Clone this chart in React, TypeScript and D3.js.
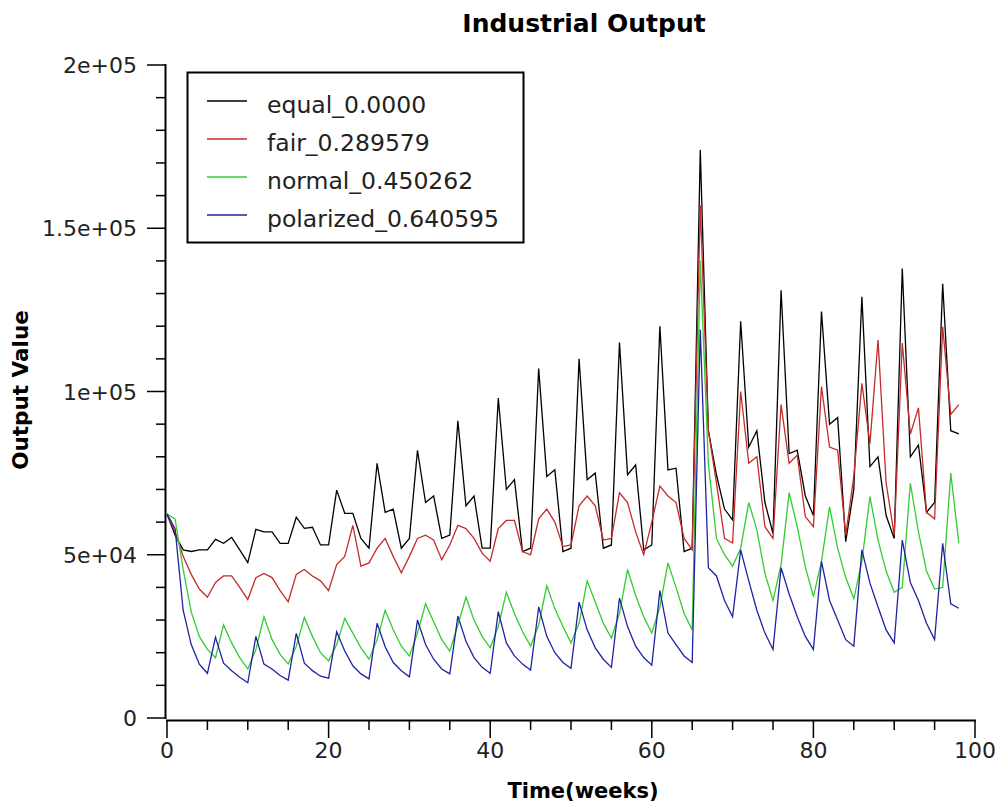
import React from "react";
import * as d3 from "d3";

const width = 1001;
const height = 805;

const seriesNames = ["equal_0.0000", "fair_0.289579", "normal_0.450262", "polarized_0.640595"];
const seriesColors = ["#000000", "#c42b2b", "#33cc33", "#1f23a3"];

// weekly output (thousands), week 0..98
const equalOutput = [
  62.5, 56, 51.5, 51, 51.5, 51.5, 54.7, 53.5, 55.3, 51.5,
  47.6, 57.8, 57, 57, 53.5, 53.5, 61.5, 58.1, 58.4, 53,
  53, 69.8, 62.7, 62.7, 55, 52, 78, 63, 64, 52,
  55, 82, 66, 68, 55, 56, 91, 65, 68, 52,
  52, 98, 70, 73, 51, 52, 107, 74, 76, 51,
  52, 110, 73, 75, 52, 53, 115, 74.5, 77.5, 51.5,
  53, 120, 76, 76.5, 51, 52, 174, 88, 74.5, 64,
  60.7, 121.5, 83, 88, 66, 56.5, 131, 81, 82, 68,
  62, 124.5, 90, 92, 54, 70, 129, 77, 80, 62,
  55, 137.7, 80, 83.6, 63, 66, 133, 88, 87,
];
const fairOutput = [
  62.5, 57, 49.5, 44, 39.5, 37, 41.5, 43.5, 43.5, 40,
  36.3, 43, 44.3, 43, 39, 35.6, 44, 45.5, 43.5, 42,
  39, 47, 49.5, 59, 46.5, 47.5, 52, 55, 49.5, 44.5,
  49.5, 55, 56, 54.5, 48.5, 53, 59, 58, 55, 50.5,
  48, 58, 60.5, 60.5, 51, 50, 61, 64, 60, 52.5,
  53, 65, 68, 65, 54.5, 55, 69, 66, 57, 50,
  60, 71, 68, 66, 55, 51.5, 157, 88, 72, 55,
  53.6, 100, 78, 80, 58.6, 55, 96, 78, 80.5, 61.7,
  58.6, 101.5, 83, 82, 56, 74, 102.5, 84, 115.8, 72,
  56, 114.8, 87, 95, 63, 61, 119.8, 93, 96,
];
const normalOutput = [
  62.5, 61, 45.5, 32.5, 25, 21, 18.5, 28.5, 23, 18.5,
  15, 21, 31, 24, 19.5, 16.5, 22, 30.8, 25, 20,
  17.5, 22.5, 30.5, 26, 21.5, 18, 24, 33, 27, 22,
  19, 26, 35, 29.5, 24, 20.5, 28.5, 37, 30, 25,
  21.5, 28, 38.5, 32, 26.5, 22, 28.5, 40.5, 33.5, 28,
  23, 29, 42, 35.5, 29, 24.5, 32, 45.5, 37.5, 31,
  26, 34, 47.5, 40, 32, 27, 140, 78, 55, 50,
  46.5, 52, 66, 57.6, 44.3, 36, 47, 69, 58.6, 46.3,
  37.2, 48, 64.7, 52, 43, 36.5, 48, 67.8, 54.5, 45,
  38.5, 40, 71.9, 57, 45, 39.5, 40, 75, 53.5,
];
const polarizedOutput = [
  62.5, 58, 33, 22.5, 16.5, 13.7, 24.7, 16.8, 14.5, 12.5,
  10.8, 25, 16.5, 15, 13, 11.6, 25.9, 16.8, 14.5, 12.8,
  12.2, 26.4, 20.5, 16, 13.5, 12, 29, 21.8, 17, 14.5,
  12.6, 30, 22.5, 18, 15, 13.5, 31.2, 23.5, 18.5, 15.5,
  13.7, 32.6, 23, 19, 16.5, 14.7, 34, 25, 20, 17,
  15.2, 35.5, 27, 21.5, 18, 15.5, 36.7, 28, 22, 18.5,
  16.2, 39, 26, 22.5, 19, 17, 119, 46, 43.5, 36,
  31, 51.5, 42, 33, 26, 21, 46, 38, 31, 25,
  21, 48, 36, 30, 24, 22, 51.5, 41.3, 34, 27,
  23, 54.5, 41.5, 36, 29, 24, 53.5, 35, 33.6,
];

const allSeries = [equalOutput, fairOutput, normalOutput, polarizedOutput];

const yTicks = [0, 50000, 100000, 150000, 200000];
const yTickLabels = ["0", "5e+04", "1e+05", "1.5e+05", "2e+05"];
const xTicks = [0, 20, 40, 60, 80, 100];
const xTickLabels = ["0", "20", "40", "60", "80", "100"];

const font = "DejaVu Sans, sans-serif";

export default function App() {
  const x = d3.scaleLinear().domain([0, 100]).range([167, 975]);
  const y = d3.scaleLinear().domain([0, 200000]).range([718, 65]);

  const line = d3
    .line<number>()
    .x((_, i) => x(i))
    .y((d) => y(d * 1000));

  const yMinor = d3.range(0, 200001, 10000).filter((v) => !yTicks.includes(v));
  const xMinor = d3.range(0, 101, 5).filter((v) => !xTicks.includes(v));

  const legendX = 187;
  const legendY = 72;
  const rowGap = 38;

  return (
    <svg
      width={width}
      height={height}
      style={{ position: "absolute", left: 0, top: 0, background: "#fff" }}
    >
      <rect x={0} y={0} width={width} height={height} fill="#fff" />

      <text
        x={584}
        y={32}
        textAnchor="middle"
        fontFamily={font}
        fontWeight="bold"
        fontSize={25}
      >
        Industrial Output
      </text>

      {/* y axis */}
      <line x1={165.5} x2={165.5} y1={64} y2={719} stroke="#000" strokeWidth={2} />
      {yTicks.map((t, i) => (
        <g key={"yt" + t}>
          <line x1={147} x2={165} y1={y(t)} y2={y(t)} stroke="#000" strokeWidth={1.5} />
          <text
            x={137}
            y={y(t) + 8}
            textAnchor="end"
            fontFamily={font}
            fontSize={22}
            fill="#222"
          >
            {yTickLabels[i]}
          </text>
        </g>
      ))}
      {yMinor.map((t) => (
        <line key={"ym" + t} x1={156} x2={165} y1={y(t)} y2={y(t)} stroke="#000" strokeWidth={1.5} />
      ))}
      <text
        transform="translate(28,390) rotate(-90)"
        textAnchor="middle"
        fontFamily={font}
        fontWeight="bold"
        fontSize={21.5}
      >
        Output Value
      </text>

      {/* x axis */}
      <line x1={166} x2={976} y1={720.5} y2={720.5} stroke="#000" strokeWidth={2} />
      {xTicks.map((t, i) => (
        <g key={"xt" + t}>
          <line x1={x(t)} x2={x(t)} y1={721} y2={738} stroke="#000" strokeWidth={1.5} />
          <text
            x={x(t)}
            y={758}
            textAnchor="middle"
            fontFamily={font}
            fontSize={22}
            fill="#222"
          >
            {xTickLabels[i]}
          </text>
        </g>
      ))}
      {xMinor.map((t) => (
        <line key={"xm" + t} x1={x(t)} x2={x(t)} y1={721} y2={730} stroke="#000" strokeWidth={1.5} />
      ))}
      <text
        x={583}
        y={798}
        textAnchor="middle"
        fontFamily={font}
        fontWeight="bold"
        fontSize={21}
      >
        Time(weeks)
      </text>

      {/* series */}
      {allSeries.map((s, i) => (
        <path
          key={seriesNames[i]}
          d={line(s) || ""}
          fill="none"
          stroke={seriesColors[i]}
          strokeWidth={1.3}
          strokeLinejoin="miter"
        />
      ))}

      {/* legend */}
      <rect
        x={legendX + 0.5}
        y={legendY + 0.5}
        width={336}
        height={170}
        fill="#fff"
        stroke="#000"
        strokeWidth={2}
      />
      {seriesNames.map((name, i) => (
        <g key={"lg" + name}>
          <line
            x1={207}
            x2={247}
            y1={legendY + 29 + i * rowGap}
            y2={legendY + 29 + i * rowGap}
            stroke={seriesColors[i]}
            strokeWidth={1.5}
          />
          <text
            x={267}
            y={legendY + 41 + i * rowGap}
            fontFamily={font}
            fontSize={23.5}
            fill="#222"
          >
            {name}
          </text>
        </g>
      ))}
    </svg>
  );
}
